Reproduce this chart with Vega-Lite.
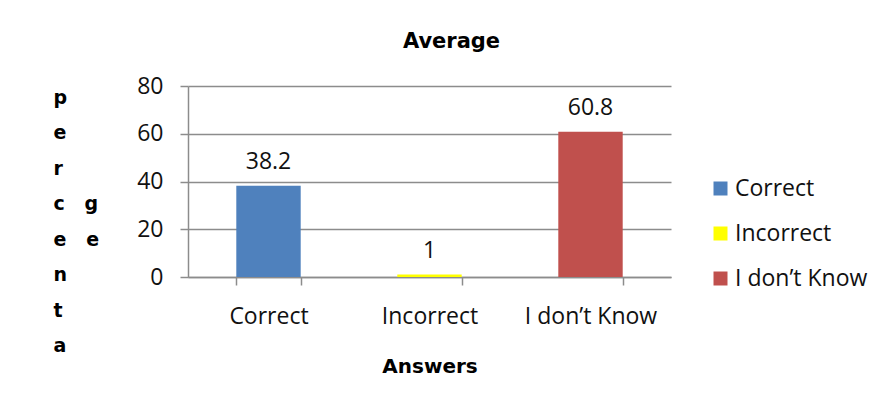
{
  "$schema": "https://vega.github.io/schema/vega-lite/v6.json",
  "width": 483,
  "height": 191,
  "autosize": {"type": "none"},
  "padding": {"left": 188, "top": 86, "right": 217, "bottom": 128},
  "background": "white",
  "title": {
    "text": "Average",
    "font": "DejaVu Sans",
    "fontSize": 21,
    "fontWeight": "bold",
    "color": "#000000",
    "anchor": "middle",
    "frame": "group",
    "dx": 22,
    "offset": 23
  },
  "data": {
    "values": [
      {"answer": "Correct", "value": 38.2},
      {"answer": "Incorrect", "value": 1},
      {"answer": "I don’t Know", "value": 60.8}
    ]
  },
  "encoding": {
    "x": {
      "field": "answer",
      "type": "nominal",
      "sort": ["Correct", "Incorrect", "I don’t Know"],
      "scale": {"paddingInner": 0.6, "paddingOuter": 0.3},
      "axis": {
        "title": "Answers",
        "titleFont": "DejaVu Sans",
        "titleFontSize": 20,
        "titleFontWeight": "bold",
        "titleColor": "#000000",
        "titleBaseline": "alphabetic",
        "titleY": 95,
        "labelAngle": 0,
        "labelFont": "Open Sans",
        "labelFontSize": 23,
        "labelColor": "#111111",
        "labelBaseline": "top",
        "labelPadding": 20,
        "tickBand": "extent",
        "tickSize": 8,
        "tickColor": "#8c8c8c",
        "tickWidth": 1.5,
        "domainColor": "#8c8c8c",
        "domainWidth": 1.5,
        "grid": false
      }
    },
    "y": {
      "field": "value",
      "type": "quantitative",
      "scale": {"domain": [0, 80]},
      "axis": {
        "values": [0, 20, 40, 60, 80],
        "title": ["p", "e", "r", "c\u00a0\u00a0\u00a0g", "e\u00a0\u00a0\u00a0e", "n", "t", "a"],
        "titleFont": "DejaVu Sans",
        "titleFontSize": 19,
        "titleFontWeight": "bold",
        "titleColor": "#000000",
        "titleAngle": 0,
        "titleAlign": "left",
        "titleBaseline": "alphabetic",
        "titleLineHeight": 35.5,
        "titleX": -135,
        "titleY": 17,
        "labelFont": "Open Sans",
        "labelFontSize": 23,
        "labelColor": "#111111",
        "labelPadding": 17,
        "tickSize": 8,
        "tickColor": "#8c8c8c",
        "tickWidth": 1.5,
        "domainColor": "#8c8c8c",
        "domainWidth": 1.5,
        "grid": true,
        "gridColor": "#8c8c8c",
        "gridWidth": 1.5
      }
    }
  },
  "layer": [
    {
      "mark": {"type": "bar"},
      "encoding": {
        "color": {
          "field": "answer",
          "type": "nominal",
          "sort": ["Correct", "Incorrect", "I don’t Know"],
          "scale": {
            "domain": ["Correct", "Incorrect", "I don’t Know"],
            "range": ["#4F81BD", "#FFFF00", "#C0504D"]
          },
          "legend": {
            "title": null,
            "orient": "none",
            "legendX": 521,
            "legendY": 91,
            "padding": 0,
            "symbolType": "square",
            "symbolSize": 196,
            "symbolStrokeWidth": 0,
            "labelFont": "Open Sans",
            "labelFontSize": 23,
            "labelColor": "#111111",
            "labelOffset": 3,
            "rowPadding": 21,
            "labelLimit": 300
          }
        }
      }
    },
    {
      "mark": {
        "type": "text",
        "font": "Open Sans",
        "fontSize": 23,
        "color": "#111111",
        "baseline": "alphabetic",
        "dy": -17
      },
      "encoding": {
        "text": {"field": "value", "type": "quantitative"}
      }
    }
  ],
  "config": {
    "view": {"stroke": null}
  }
}
